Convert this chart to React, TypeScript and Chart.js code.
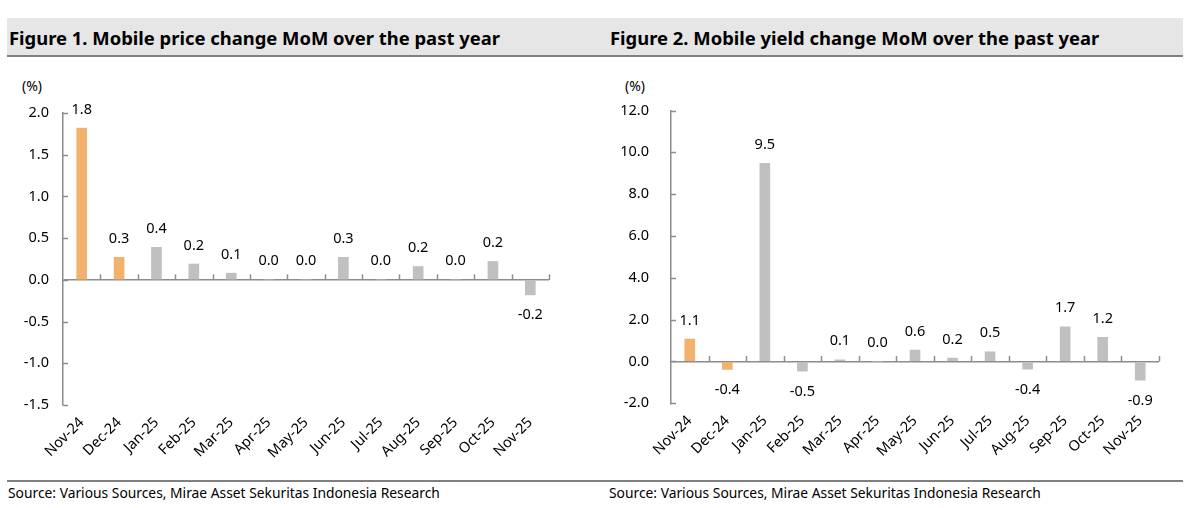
import React, { useEffect, useRef } from 'react';
import { Chart, registerables } from 'chart.js';

Chart.register(...registerables);

// ---------- DATA ----------
const categories = ['Nov-24', 'Dec-24', 'Jan-25', 'Feb-25', 'Mar-25', 'Apr-25', 'May-25', 'Jun-25', 'Jul-25', 'Aug-25', 'Sep-25', 'Oct-25', 'Nov-25'];
const priceChangeMoM = [1.82, 0.27, 0.39, 0.19, 0.08, 0.0, 0.0, 0.27, 0.0, 0.16, 0.0, 0.22, -0.18];
const yieldChangeMoM = [1.07, -0.38, 9.47, -0.46, 0.08, 0.0, 0.55, 0.16, 0.46, -0.37, 1.66, 1.16, -0.89];
const highlightedMonths = ['Nov-24', 'Dec-24'];
const priceTicks = [-1.5, -1.0, -0.5, 0.0, 0.5, 1.0, 1.5, 2.0];
const yieldTicks = [-2.0, 0.0, 2.0, 4.0, 6.0, 8.0, 10.0, 12.0];

const title1 = 'Figure 1. Mobile price change MoM over the past year';
const title2 = 'Figure 2. Mobile yield change MoM over the past year';
const sourceText = 'Source: Various Sources, Mirae Asset Sekuritas Indonesia Research';
const unitLabel = '(%)';

// ---------- STYLE ----------
const ORANGE = '#F2B26E';
const GRAY = '#C0C0C0';
const AXIS = '#8C8C8C';
const FONT = '"Noto Sans", "Open Sans", sans-serif';

const decorPlugin = {
  id: 'decor',
  afterDatasetsDraw(chart: any) {
    const { ctx, chartArea, scales } = chart;
    const x = scales.x;
    const y = scales.y;
    ctx.save();
    ctx.strokeStyle = AXIS;
    ctx.lineWidth = 1.5;
    // inward y ticks
    y.ticks.forEach((t: any) => {
      const py = Math.round(y.getPixelForValue(t.value)) + 0.5;
      ctx.beginPath();
      ctx.moveTo(chartArea.left, py);
      ctx.lineTo(chartArea.left + 5, py);
      ctx.stroke();
    });
    // category boundary ticks on zero line
    const zero = y.getPixelForValue(0);
    const n = chart.data.labels.length;
    const w = (x.right - x.left) / n;
    for (let k = 1; k <= n; k++) {
      const px = Math.round(x.left + k * w) + 0.5;
      ctx.beginPath();
      ctx.moveTo(px, zero);
      ctx.lineTo(px, zero - 5.5);
      ctx.stroke();
    }
    // data labels
    const ds = chart.data.datasets[0];
    const meta = chart.getDatasetMeta(0);
    ctx.fillStyle = '#000';
    ctx.font = `14.5px ${FONT}`;
    ctx.textAlign = 'center';
    ctx.textBaseline = 'middle';
    meta.data.forEach((el: any, i: number) => {
      const v = ds.data[i] as number;
      const yy = v >= 0 ? el.y - 18.5 : el.y + 20.5;
      ctx.fillText(v.toFixed(1), el.x, yy);
    });
    ctx.restore();
  },
};

type ChartProps = {
  values: number[];
  ticks: number[];
  width: number;
  height: number;
  yAxisWidth: number;
  tickGap: number;
  padTop: number;
  padRight: number;
  xAxisHeight: number;
};

function BarChart(props: ChartProps) {
  const ref = useRef<HTMLCanvasElement | null>(null);
  useEffect(() => {
    if (!ref.current) return;
    const colors = categories.map((c) => (highlightedMonths.includes(c) ? ORANGE : GRAY));
    const step = props.ticks[1] - props.ticks[0];
    const chart = new Chart(ref.current, {
      type: 'bar',
      data: {
        labels: categories,
        datasets: [
          {
            data: props.values,
            backgroundColor: colors,
            borderWidth: 0,
            barThickness: 10,
          },
        ],
      },
      options: {
        responsive: false,
        animation: false,
        devicePixelRatio: 1,
        layout: { padding: { top: props.padTop, right: props.padRight, left: 0, bottom: 0 } },
        plugins: { legend: { display: false }, tooltip: { enabled: false } },
        scales: {
          x: {
            position: 'bottom',
            grid: { display: false, drawTicks: false },
            border: { display: false },
            ticks: {
              autoSkip: false,
              minRotation: 45,
              maxRotation: 45,
              padding: 9,
              color: '#000',
              font: { family: FONT, size: 14.5 },
            },
            afterFit: (s: any) => {
              s.height = props.xAxisHeight;
            },
          },
          y: {
            min: props.ticks[0],
            max: props.ticks[props.ticks.length - 1],
            grid: {
              drawTicks: false,
              lineWidth: 1.5,
              color: (c: any) => (c.tick && c.tick.value === 0 ? AXIS : 'rgba(0,0,0,0)'),
            },
            border: { display: true, color: AXIS, width: 1.5 },
            ticks: {
              stepSize: step,
              padding: props.tickGap,
              color: '#000',
              font: { family: FONT, size: 14.5 },
              callback: (v: any) => Number(v).toFixed(1),
            },
            afterFit: (s: any) => {
              s.width = props.yAxisWidth;
            },
          },
        },
      },
      plugins: [decorPlugin],
    });
    return () => chart.destroy();
  }, []);
  return (
    <canvas
      ref={ref}
      width={props.width}
      height={props.height}
      style={{ width: props.width, height: props.height, display: 'block' }}
    />
  );
}

const abs = (left: number, top: number, extra: React.CSSProperties = {}): React.CSSProperties => ({
  position: 'absolute',
  left,
  top,
  ...extra,
});

export default function App() {
  const titleStyle: React.CSSProperties = {
    fontFamily: FONT,
    fontWeight: 700,
    fontSize: 18.6,
    lineHeight: '20px',
    color: '#000',
    whiteSpace: 'nowrap',
    transformOrigin: 'left center',
    transform: 'scaleX(0.99)',
  };
  const sourceStyle: React.CSSProperties = {
    fontFamily: FONT,
    fontSize: 14.6,
    lineHeight: '16px',
    color: '#000',
    whiteSpace: 'nowrap',
    transformOrigin: 'left center',
    transform: 'scaleX(0.947)',
  };
  const unitStyle: React.CSSProperties = {
    fontFamily: FONT,
    fontSize: 14,
    lineHeight: '16px',
    color: '#000',
    whiteSpace: 'nowrap',
  };
  return (
    <div style={{ position: 'absolute', left: 0, top: 0, width: 1185, height: 508, background: '#fff', overflow: 'hidden' }}>
      <div style={abs(7, 18, { width: 1176, height: 37, background: '#E6E6E6', borderBottom: '2px solid #808080' })} />
      <div style={abs(9, 28, titleStyle)}>{title1}</div>
      <div style={abs(610, 28, titleStyle)}>{title2}</div>
      <div style={abs(22, 78, unitStyle)}>{unitLabel}</div>
      <div style={abs(625, 78, unitStyle)}>{unitLabel}</div>
      <div style={abs(0, 60)}>
        <BarChart
          values={priceChangeMoM}
          ticks={priceTicks}
          width={595}
          height={418}
          yAxisWidth={63}
          tickGap={14}
          padTop={53}
          padRight={46}
          xAxisHeight={73}
        />
      </div>
      <div style={abs(600, 60)}>
        <BarChart
          values={yieldChangeMoM}
          ticks={yieldTicks}
          width={585}
          height={418}
          yAxisWidth={71}
          tickGap={22}
          padTop={50.5}
          padRight={26}
          xAxisHeight={74.7}
        />
      </div>
      <div style={abs(7, 480, { width: 1176, height: 0, borderTop: '2px solid #808080' })} />
      <div style={abs(8, 484, sourceStyle)}>{sourceText}</div>
      <div style={abs(609, 484, sourceStyle)}>{sourceText}</div>
    </div>
  );
}
